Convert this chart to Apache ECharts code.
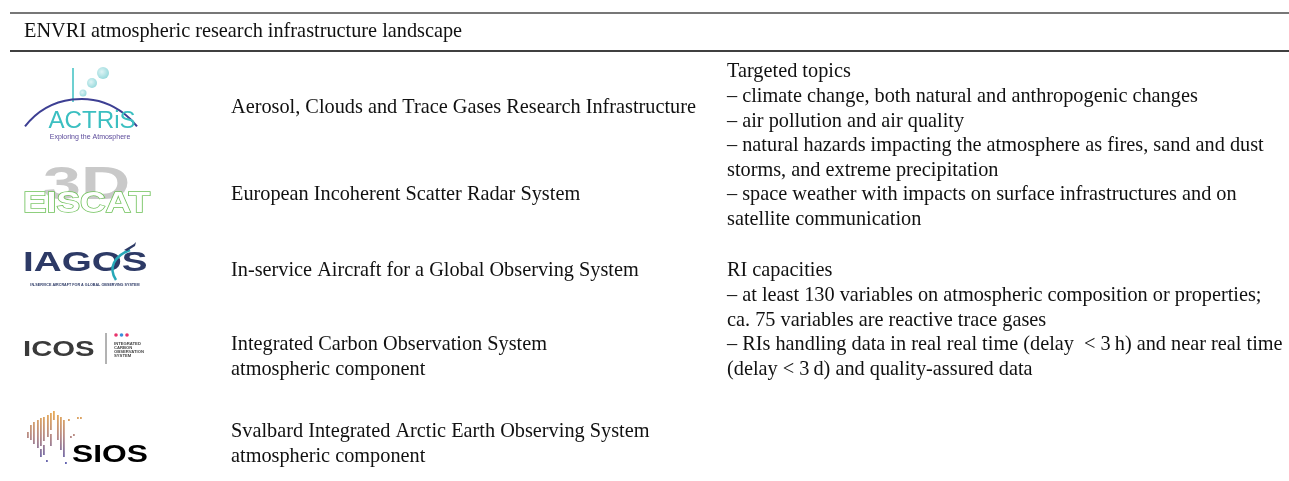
<!DOCTYPE html>
<html>
<head>
<meta charset="utf-8">
<script src="https://cdn.jsdelivr.net/npm/echarts@6/dist/echarts.min.js"></script>
<style>
  html, body { margin: 0; padding: 0; background: #fff; }
  #main { width: 1289px; height: 481px; }
</style>
</head>
<body>
<div id="main"></div>
<script>
// table content
var tableTitle = 'ENVRI atmospheric research infrastructure landscape';
var riNames = ['ACTRIS', 'EISCAT_3D', 'IAGOS', 'ICOS', 'SIOS'];
var riDescriptions = [
  ['Aerosol, Clouds and Trace Gases Research Infrastructure'],
  ['European Incoherent Scatter Radar System'],
  ['In-service Aircraft for a Global Observing System'],
  ['Integrated Carbon Observation System', 'atmospheric component'],
  ['Svalbard Integrated Arctic Earth Observing System', 'atmospheric component']
];
var topicLines = [
  'Targeted topics',
  '\u2013 climate change, both natural and anthropogenic changes',
  '\u2013 air pollution and air quality',
  '\u2013 natural hazards impacting the atmosphere as fires, sand and dust',
  'storms, and extreme precipitation',
  '\u2013 space weather with impacts on surface infrastructures and on',
  'satellite communication'
];
var capacityLines = [
  'RI capacities',
  '\u2013 at least 130 variables on atmospheric composition or properties;',
  'ca. 75 variables are reactive trace gases',
  '\u2013 RIs handling data in real real time (delay  < 3\u2009h) and near real time',
  '(delay < 3\u2009d) and quality-assured data'
];

var serif = '"Liberation Serif", "Times New Roman", serif';
var sans = '"Liberation Sans", Arial, sans-serif';
var bodyFont = '20.3px ' + serif;
var lineH = 24.6;
var rowY = [108, 195, 271, 345, 432];

function txt(x, y, s, font, fill, extra) {
  var st = { text: s, font: font, fill: fill || '#111', align: 'left', verticalAlign: 'middle' };
  if (extra) for (var k in extra) st[k] = extra[k];
  return { type: 'text', x: x, y: y, style: st, silent: true };
}

// logos, drawn roughly
function logoActris() {
  var g = [];
  g.push({ type: 'line', shape: { x1: 73, y1: 68, x2: 73, y2: 102 }, style: { stroke: '#3cc0c2', lineWidth: 1.5 } });
  [[103, 73, 6], [92, 83, 5], [83, 93, 3.5]].forEach(function (c) {
    g.push({ type: 'circle', shape: { cx: c[0], cy: c[1], r: c[2] },
      style: { fill: new echarts.graphic.RadialGradient(0.4, 0.4, 0.7, [{ offset: 0, color: '#dff4f5' }, { offset: 1, color: '#8fd6d9' }]) } });
  });
  var r = 70.8, cy = 169.8, half = Math.asin(56 / r);
  g.push({ type: 'arc', shape: { cx: 81, cy: cy, r: r, startAngle: -Math.PI / 2 - half, endAngle: -Math.PI / 2 + half, clockwise: true },
    style: { stroke: '#3d3f93', lineWidth: 2, fill: null } });
  g.push({ type: 'text', x: 92, y: 122, scaleX: 1.05, silent: true,
    style: { text: 'ACTRiS', font: '23px ' + sans, fill: '#3bbfc1', align: 'center', verticalAlign: 'middle' } });
  g.push(txt(90, 137, 'Exploring the Atmosphere', '7px ' + sans, '#5b4a9a', { align: 'center' }));
  return g;
}

function logoEiscat() {
  return [
    { type: 'text', x: 43, y: 186, scaleX: 1.45, silent: true,
      style: { text: '3D', font: 'bold 47px ' + sans, fill: '#c9c9c9', align: 'left', verticalAlign: 'middle' } },
    { type: 'text', x: 23, y: 204, scaleX: 1.22, silent: true,
      style: { text: 'EISCAT', font: 'bold 29px ' + sans, fill: '#ffffff', stroke: '#6fc15a', lineWidth: 1.4, align: 'left', verticalAlign: 'middle' } }
  ];
}

function logoIagos() {
  return [
    { type: 'text', x: 23, y: 263, scaleX: 1.38, silent: true,
      style: { text: 'IAGOS', font: 'bold 28px ' + sans, fill: '#2d3a66', align: 'left', verticalAlign: 'middle' } },
    { type: 'bezierCurve', shape: { x1: 130, y1: 250, cpx1: 114, cpy1: 256, cpx2: 108, cpy2: 268, x2: 116, y2: 280 },
      style: { stroke: '#27a8b8', lineWidth: 2.5, fill: null } },
    { type: 'polygon', shape: { points: [[124, 250], [134, 244], [136, 242], [135, 246], [127, 251]] }, style: { fill: '#2d3a66' } },
    txt(85, 285, 'IN-SERVICE AIRCRAFT FOR A GLOBAL OBSERVING SYSTEM', 'bold 3.7px ' + sans, '#2d3a66', { align: 'center' })
  ];
}

function logoIcos() {
  var g = [
    { type: 'text', x: 23, y: 350, scaleX: 1.33, silent: true,
      style: { text: 'ICOS', font: 'bold 22px ' + sans, fill: '#3a3a3a', align: 'left', verticalAlign: 'middle' } },
    { type: 'line', shape: { x1: 106, y1: 333, x2: 106, y2: 364 }, style: { stroke: '#666', lineWidth: 1 } }
  ];
  [['#e8336b', 116], ['#3a8fdc', 121.5], ['#e8336b', 127]].forEach(function (d) {
    g.push({ type: 'circle', shape: { cx: d[1], cy: 335, r: 1.8 }, style: { fill: d[0] } });
  });
  ['INTEGRATED', 'CARBON', 'OBSERVATION', 'SYSTEM'].forEach(function (s, i) {
    g.push(txt(114, 344 + i * 4.1, s, 'bold 4.2px ' + sans, '#444'));
  });
  return g;
}

function logoSios() {
  var grad = new echarts.graphic.LinearGradient(0, 408, 0, 466, [
    { offset: 0, color: '#f0b050' }, { offset: 0.5, color: '#b58a88' }, { offset: 1, color: '#5a5fb5' }], true);
  var bars = [[27, 432, 438], [30, 425, 440], [33, 422, 444], [37, 420, 448], [40, 418, 446], [40, 449, 457],
    [43, 417, 441], [43, 445, 455], [47, 415, 437], [50, 413, 430], [50, 434, 446], [53, 411, 420],
    [57, 415, 440], [60, 417, 450], [63, 420, 457]];
  var g = [];
  bars.forEach(function (b) {
    g.push({ type: 'rect', shape: { x: b[0], y: b[1], width: 1.8, height: b[2] - b[1] }, style: { fill: grad } });
  });
  [[68, 419], [77, 417], [80, 417], [70, 436], [73, 434], [65, 462], [46, 460]].forEach(function (d) {
    g.push({ type: 'rect', shape: { x: d[0], y: d[1], width: 1.8, height: 2 }, style: { fill: grad } });
  });
  g.push({ type: 'text', x: 72, y: 456, scaleX: 1.38, silent: true,
    style: { text: 'SIOS', font: 'bold 23px ' + sans,
      fill: new echarts.graphic.LinearGradient(0, 0, 1, 0, [{ offset: 0, color: '#111' }, { offset: 0.45, color: '#222' }, { offset: 0.65, color: '#5a4a7a' }, { offset: 1, color: '#111' }]),
      align: 'left', verticalAlign: 'middle' } });
  return g;
}

var logos = { ACTRIS: logoActris, EISCAT_3D: logoEiscat, IAGOS: logoIagos, ICOS: logoIcos, SIOS: logoSios };

var elements = [];
elements.push({ type: 'line', shape: { x1: 10, y1: 13, x2: 1289, y2: 13 }, style: { stroke: '#777', lineWidth: 2 } });
elements.push(txt(24, 32, tableTitle, bodyFont));
elements.push({ type: 'line', shape: { x1: 10, y1: 51, x2: 1289, y2: 51 }, style: { stroke: '#000', lineWidth: 1.5 } });

riNames.forEach(function (name, i) {
  elements = elements.concat(logos[name]());
  riDescriptions[i].forEach(function (s, j) {
    elements.push(txt(231, rowY[i] + j * lineH, s, bodyFont));
  });
});
topicLines.forEach(function (s, i) {
  elements.push(txt(727, 72 + i * lineH, s, bodyFont));
});
capacityLines.forEach(function (s, i) {
  elements.push(txt(727, 271 + i * lineH, s, bodyFont));
});

var chart = echarts.init(document.getElementById('main'), null, { renderer: 'canvas' });
chart.setOption({
  backgroundColor: '#fff',
  animation: false,
  graphic: { elements: elements }
});
</script>
</body>
</html>
